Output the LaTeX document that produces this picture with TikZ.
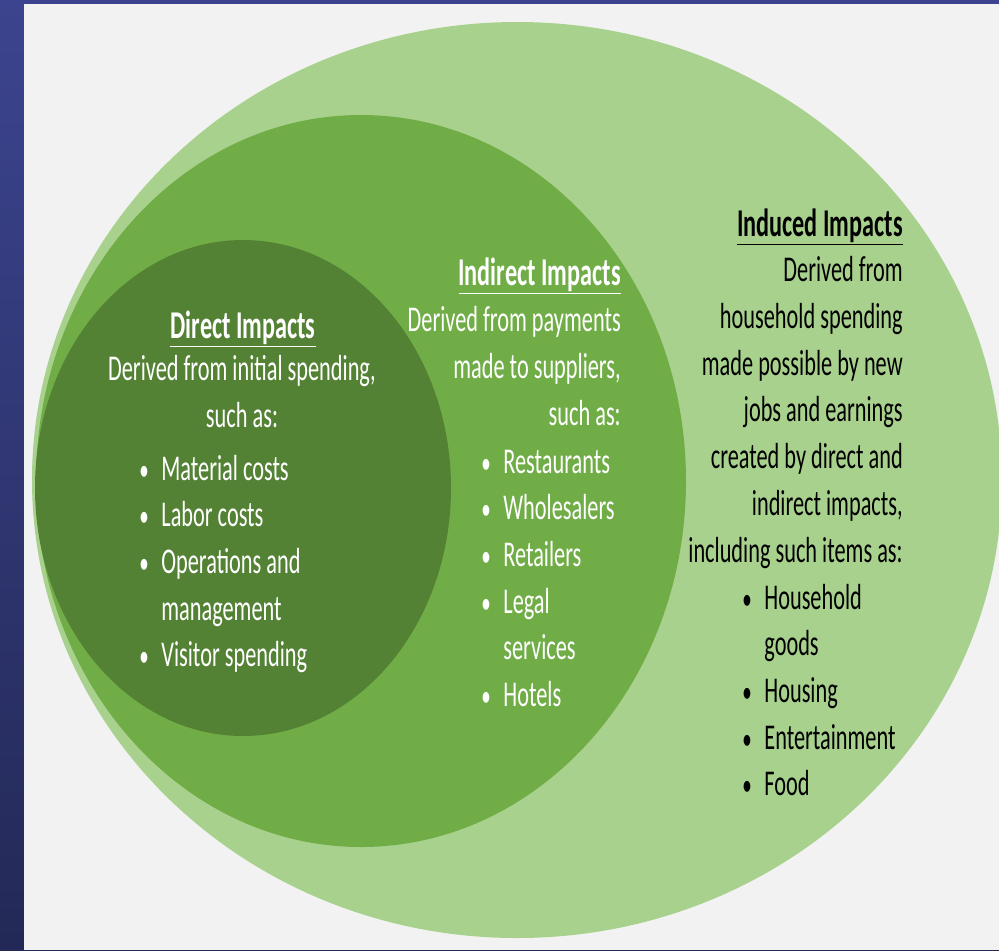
\documentclass[tikz,border=0pt]{standalone}
\usepackage{fontspec}
\setmainfont{Carlito}[FakeStretch=0.615]
\usetikzlibrary{positioning}
\definecolor{navytop}{HTML}{3C448F}
\definecolor{navybot}{HTML}{232956}
\definecolor{panelgray}{HTML}{F2F2F2}
\definecolor{inducedgreen}{HTML}{A9D18E}
\definecolor{indirectgreen}{HTML}{70AD47}
\definecolor{directgreen}{HTML}{548235}
\newcommand{\dotmark}{\scalebox{0.85}{\textbullet}}
\tikzset{
  impacttext/.style = {inner sep=0pt, font=\fontsize{25.8}{33.2}\selectfont},
  impacthead/.style = {impacttext, font=\fontsize{28}{33.2}\selectfont\bfseries},
}

\begin{document}
\begin{tikzpicture}[x=0.025cm, y=-0.025cm]

\clip (0,0) rectangle (999,950);

% Backdrop
\shade[top color=navytop, bottom color=navybot] (0,0) rectangle (999,950);
\fill[panelgray] (24,4) rectangle (999,950);

% Nested ellipses
\fill[inducedgreen] (517,480) ellipse [x radius=485, y radius=458];
\fill[indirectgreen] (361,481) ellipse [x radius=325, y radius=366];
\fill[directgreen] (243,488) ellipse [x radius=208, y radius=248];

% Direct impacts (anchor base = last line)
\node[impacthead, white, anchor=base] (dirhead) at (243,338) {\underline{Direct Impacts}};
\node[impacttext, white, align=center, anchor=base] (dirtext) at (242,427)
  {Derived from initial spending,\\such as:};
\node[impacttext, white, anchor=base west] (dirlist) at (139,480) {%
  \begin{tabular}[t]{@{}c@{\hspace{9pt}}l@{}}
  \dotmark & Material costs\\
  \dotmark & Labor costs\\
  \dotmark & Operations and\\
           & management\\
  \dotmark & Visitor spending
  \end{tabular}};

% Indirect impacts
\node[impacthead, white, anchor=base east] (indirhead) at (621,285) {\underline{Indirect Impacts}};
\node[impacttext, white, align=right, anchor=base east] (indirtext) at (621,425)
  {Derived from payments\\made to suppliers,\\such as:};
\node[impacttext, white, anchor=base west] (indirlist) at (481,473) {%
  \begin{tabular}[t]{@{}c@{\hspace{9pt}}l@{}}
  \dotmark & Restaurants\\
  \dotmark & Wholesalers\\
  \dotmark & Retailers\\
  \dotmark & Legal\\
           & services\\
  \dotmark & Hotels
  \end{tabular}};

% Induced impacts
\node[impacthead, black, anchor=base east] (inducedhead) at (903,236) {\underline{Induced Impacts}};
\node[impacttext, black, align=right, anchor=base east] (inducedtext) at (903,562)
  {Derived from\\household spending\\made possible by new\\jobs and earnings\\created by direct and\\indirect impacts,\\including such items as:};
\node[impacttext, black, anchor=base west] (inducedlist) at (742,609) {%
  \begin{tabular}[t]{@{}c@{\hspace{9pt}}l@{}}
  \dotmark & Household\\
           & goods\\
  \dotmark & Housing\\
  \dotmark & Entertainment\\
  \dotmark & Food
  \end{tabular}};

\end{tikzpicture}
\end{document}
